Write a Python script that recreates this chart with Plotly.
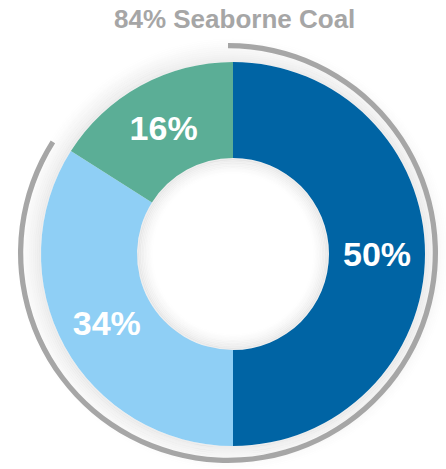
import plotly.graph_objects as go

# Data
labels = ["Seaborne Coal A", "Seaborne Coal B", "Other"]
values = [50, 34, 16]
colors = ["#0064a4", "#8fcff5", "#5bae96"]
arc_labels = ["Seaborne Coal", "Rest"]
arc_values = [84, 16]
title_text = "84% Seaborne Coal"

W, H = 446, 469

def dom(cx, cy, r):
    return dict(x=[(cx - r) / W, (cx + r) / W],
                y=[(H - cy - r) / H, (H - cy + r) / H])

fig = go.Figure()

# outer grey arc (84%)
fig.add_trace(go.Pie(
    values=arc_values, labels=arc_labels, sort=False, direction="clockwise",
    rotation=0, hole=0.975, domain=dom(228, 253, 210),
    marker=dict(colors=["#a6a6a6", "rgba(0,0,0,0)"], line=dict(width=0)),
    textinfo="none", hoverinfo="skip", showlegend=False,
))

# main donut
fig.add_trace(go.Pie(
    values=values, labels=labels, sort=False, direction="clockwise",
    rotation=0, hole=0.5, domain=dom(233, 254, 192),
    marker=dict(colors=colors, line=dict(width=0)),
    texttemplate="<b>%{percent}</b>", textposition="inside",
    insidetextorientation="horizontal",
    textfont=dict(family="Liberation Sans, Arial, sans-serif", size=34, color="white"),
    showlegend=False,
))

shapes = []
cx, cy = 233, 254
# soft outer shadow
n_out = 12
for i in range(n_out):
    r = 193 + i * 2
    a = 0.07 * (1 - i / n_out) ** 1.3
    shapes.append(dict(type="circle", xref="paper", yref="paper", layer="below",
                       x0=(cx - r) / W, x1=(cx + r) / W,
                       y0=(H - cy - r) / H, y1=(H - cy + r) / H,
                       line=dict(color=f"rgba(0,0,0,{a:.3f})", width=2.2)))
# inner hole shadow
n_in = 10
for i in range(n_in):
    r = 95 - i * 1.6
    a = 0.07 * (1 - i / n_in) ** 1.3
    shapes.append(dict(type="circle", xref="paper", yref="paper", layer="above",
                       x0=(cx - r) / W, x1=(cx + r) / W,
                       y0=(H - cy - r) / H, y1=(H - cy + r) / H,
                       line=dict(color=f"rgba(0,0,0,{a:.3f})", width=2)))

fig.update_layout(
    width=W, height=H,
    margin=dict(l=0, r=0, t=0, b=0),
    paper_bgcolor="white", plot_bgcolor="white",
    shapes=shapes,
    annotations=[dict(text=f"<b>{title_text}</b>", x=234.5 / W, y=1 - 18.5 / H,
                      xref="paper", yref="paper", showarrow=False,
                      xanchor="center", yanchor="middle",
                      font=dict(family="Liberation Sans, Arial, sans-serif",
                                size=26, color="#a6a6a6"))],
)

fig.write_html("out.html", config={"displayModeBar": False},
               post_script="document.body.style.margin='0px';document.body.style.padding='0px';")
